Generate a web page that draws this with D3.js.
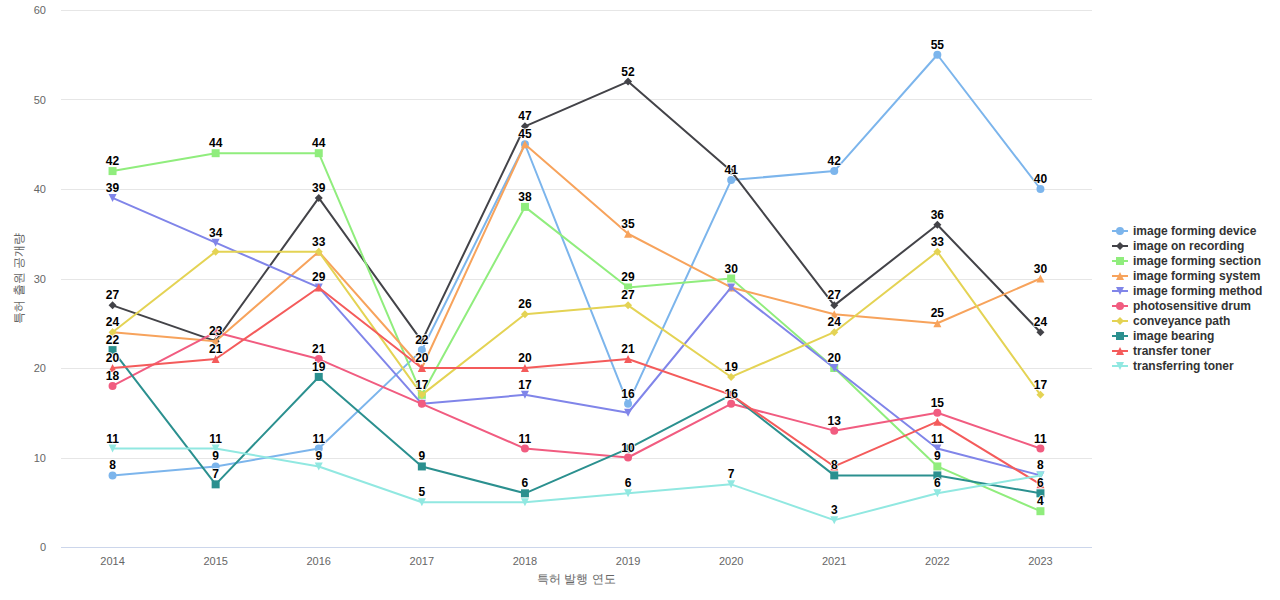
<!DOCTYPE html>
<html>
<head>
<meta charset="utf-8">
<script src="https://cdn.jsdelivr.net/npm/d3@7"></script>
<style>
  body { margin: 0; background: #fff; }
  text { font-family: "Liberation Sans", Arial, Helvetica, sans-serif; }
</style>
</head>
<body>
<div id="chart"></div>
<script>
// categories (years) and y ticks
var years = ["2014", "2015", "2016", "2017", "2018", "2019", "2020", "2021", "2022", "2023"];
var yTicks = [0, 10, 20, 30, 40, 50, 60];

// series values
var imageFormingDevice   = [8, 9, 11, 22, 45, 16, 41, 42, 55, 40];
var imageOnRecording     = [27, 23, 39, 23, 47, 52, 42, 27, 36, 24];
var imageFormingSection  = [42, 44, 44, 17, 38, 29, 30, 20, 9, 4];
var imageFormingSystem   = [24, 23, 33, 20, 45, 35, 29, 26, 25, 30];
var imageFormingMethod   = [39, 34, 29, 16, 17, 15, 29, 20, 11, 8];
var photosensitiveDrum   = [18, 24, 21, 16, 11, 10, 16, 13, 15, 11];
var conveyancePath       = [24, 33, 33, 17, 26, 27, 19, 24, 33, 17];
var imageBearing         = [22, 7, 19, 9, 6, 11, 17, 8, 8, 6];
var transferToner        = [20, 21, 29, 20, 20, 21, 17, 9, 14, 7];
var transferringToner    = [11, 11, 9, 5, 5, 6, 7, 3, 6, 8];

var seriesNames = ["image forming device", "image on recording", "image forming section",
  "image forming system", "image forming method", "photosensitive drum", "conveyance path",
  "image bearing", "transfer toner", "transferring toner"];
var seriesValues = [imageFormingDevice, imageOnRecording, imageFormingSection, imageFormingSystem,
  imageFormingMethod, photosensitiveDrum, conveyancePath, imageBearing, transferToner, transferringToner];

var colors = ["#7cb5ec", "#434348", "#90ed7d", "#f7a35c", "#8085e9",
              "#f15c80", "#e4d354", "#2b908f", "#f45b5b", "#91e8e1"];
var symbols = ["circle", "diamond", "square", "triangle", "triangle-down"];

var series = seriesNames.map(function(n, i) {
  return { name: n, values: seriesValues[i], color: colors[i], symbol: symbols[i % 5] };
});

// dimensions
var W = 1280, H = 600;
var margin = {top: 10, right: 188, bottom: 53, left: 61},
    width = W - margin.left - margin.right,
    height = H - margin.top - margin.bottom;

var svg = d3.select("#chart").append("svg")
    .attr("width", W).attr("height", H);
var g = svg.append("g")
    .attr("transform", "translate(" + margin.left + "," + margin.top + ")");

var x = d3.scalePoint().domain(years).range([0, width]).padding(0.5);
var y = d3.scaleLinear().domain([0, 60]).range([height, 0]);

// grid
g.append("g").selectAll("line").data(yTicks.filter(function(t) { return t > 0; }))
  .enter().append("line")
    .attr("x1", 0).attr("x2", width)
    .attr("y1", function(d) { return Math.round(y(d)) + 0.5; })
    .attr("y2", function(d) { return Math.round(y(d)) + 0.5; })
    .attr("stroke", "#e6e6e6");

// y axis labels
g.append("g").selectAll("text").data(yTicks).enter().append("text")
    .attr("x", -15).attr("y", function(d) { return y(d) + 4; })
    .attr("text-anchor", "end")
    .attr("font-size", 11).attr("fill", "#666666")
    .text(function(d) { return d; });

// x axis
g.append("line")
    .attr("x1", 0).attr("x2", width)
    .attr("y1", height + 0.5).attr("y2", height + 0.5)
    .attr("stroke", "#ccd6eb");
g.append("g").selectAll("text").data(years).enter().append("text")
    .attr("x", function(d) { return x(d); }).attr("y", height + 18)
    .attr("text-anchor", "middle")
    .attr("font-size", 11).attr("fill", "#666666")
    .text(function(d) { return d; });

// axis titles
svg.append("text")
    .attr("x", margin.left + width / 2).attr("y", 583)
    .attr("text-anchor", "middle").attr("font-size", 12).attr("fill", "#666666")
    .text("특허 발행 연도");
svg.append("text")
    .attr("transform", "translate(23," + (margin.top + height / 2) + ") rotate(-90)")
    .attr("text-anchor", "middle").attr("font-size", 12).attr("fill", "#666666")
    .text("특허 출원 공개량");

function symbolPath(s) {
  if (s === "circle") return d3.symbol(d3.symbolCircle, 50)();
  if (s === "diamond") return "M0,-4L4,0L0,4L-4,0Z";
  if (s === "square") return "M-4,-4L4,-4L4,4L-4,4Z";
  if (s === "triangle") return "M0,-4L4,4L-4,4Z";
  return "M-4,-4L4,-4L0,4Z";
}

var line = d3.line()
  .x(function(d, i) { return x(years[i]); })
  .y(function(d) { return y(d); });

series.forEach(function(s) {
  var sg = g.append("g");
  sg.append("path").datum(s.values)
    .attr("d", line)
    .attr("fill", "none").attr("stroke", s.color).attr("stroke-width", 2)
    .attr("stroke-linejoin", "round").attr("stroke-linecap", "round");
  sg.selectAll("path.m").data(s.values).enter().append("path")
    .attr("class", "m")
    .attr("d", symbolPath(s.symbol))
    .attr("transform", function(d, i) { return "translate(" + x(years[i]) + "," + y(d) + ")"; })
    .attr("fill", s.color);
});

// data labels, hiding ones that collide with earlier labels
var placed = [];
var lg = g.append("g");
series.forEach(function(s) {
  s.values.forEach(function(v, i) {
    var cx = x(years[i]), cy = y(v) - 6;
    var w = String(v).length * 7;
    var box = {x0: cx - w / 2, x1: cx + w / 2, y0: cy - 11, y1: cy + 1};
    var hit = placed.some(function(b) {
      return box.x0 < b.x1 && box.x1 > b.x0 && box.y0 < b.y1 && box.y1 > b.y0;
    });
    if (hit) return;
    placed.push(box);
    lg.append("text")
      .attr("x", cx).attr("y", cy)
      .attr("text-anchor", "middle")
      .attr("font-size", 12).attr("font-weight", "bold")
      .attr("fill", "#000000")
      .attr("stroke", "#ffffff").attr("stroke-width", 1.5)
      .attr("stroke-linejoin", "round")
      .attr("paint-order", "stroke")
      .text(v);
  });
});

// legend
var legend = svg.append("g").attr("transform", "translate(1112,231)");
series.forEach(function(s, i) {
  var it = legend.append("g").attr("transform", "translate(0," + (i * 15) + ")");
  it.append("line").attr("x1", 0).attr("x2", 16).attr("y1", 0).attr("y2", 0)
    .attr("stroke", s.color).attr("stroke-width", 2);
  it.append("path").attr("d", symbolPath(s.symbol))
    .attr("transform", "translate(8,0)").attr("fill", s.color);
  it.append("text").attr("x", 21).attr("y", 4)
    .attr("font-size", 12).attr("font-weight", "bold").attr("fill", "#333333")
    .text(s.name);
});
</script>
</body>
</html>
